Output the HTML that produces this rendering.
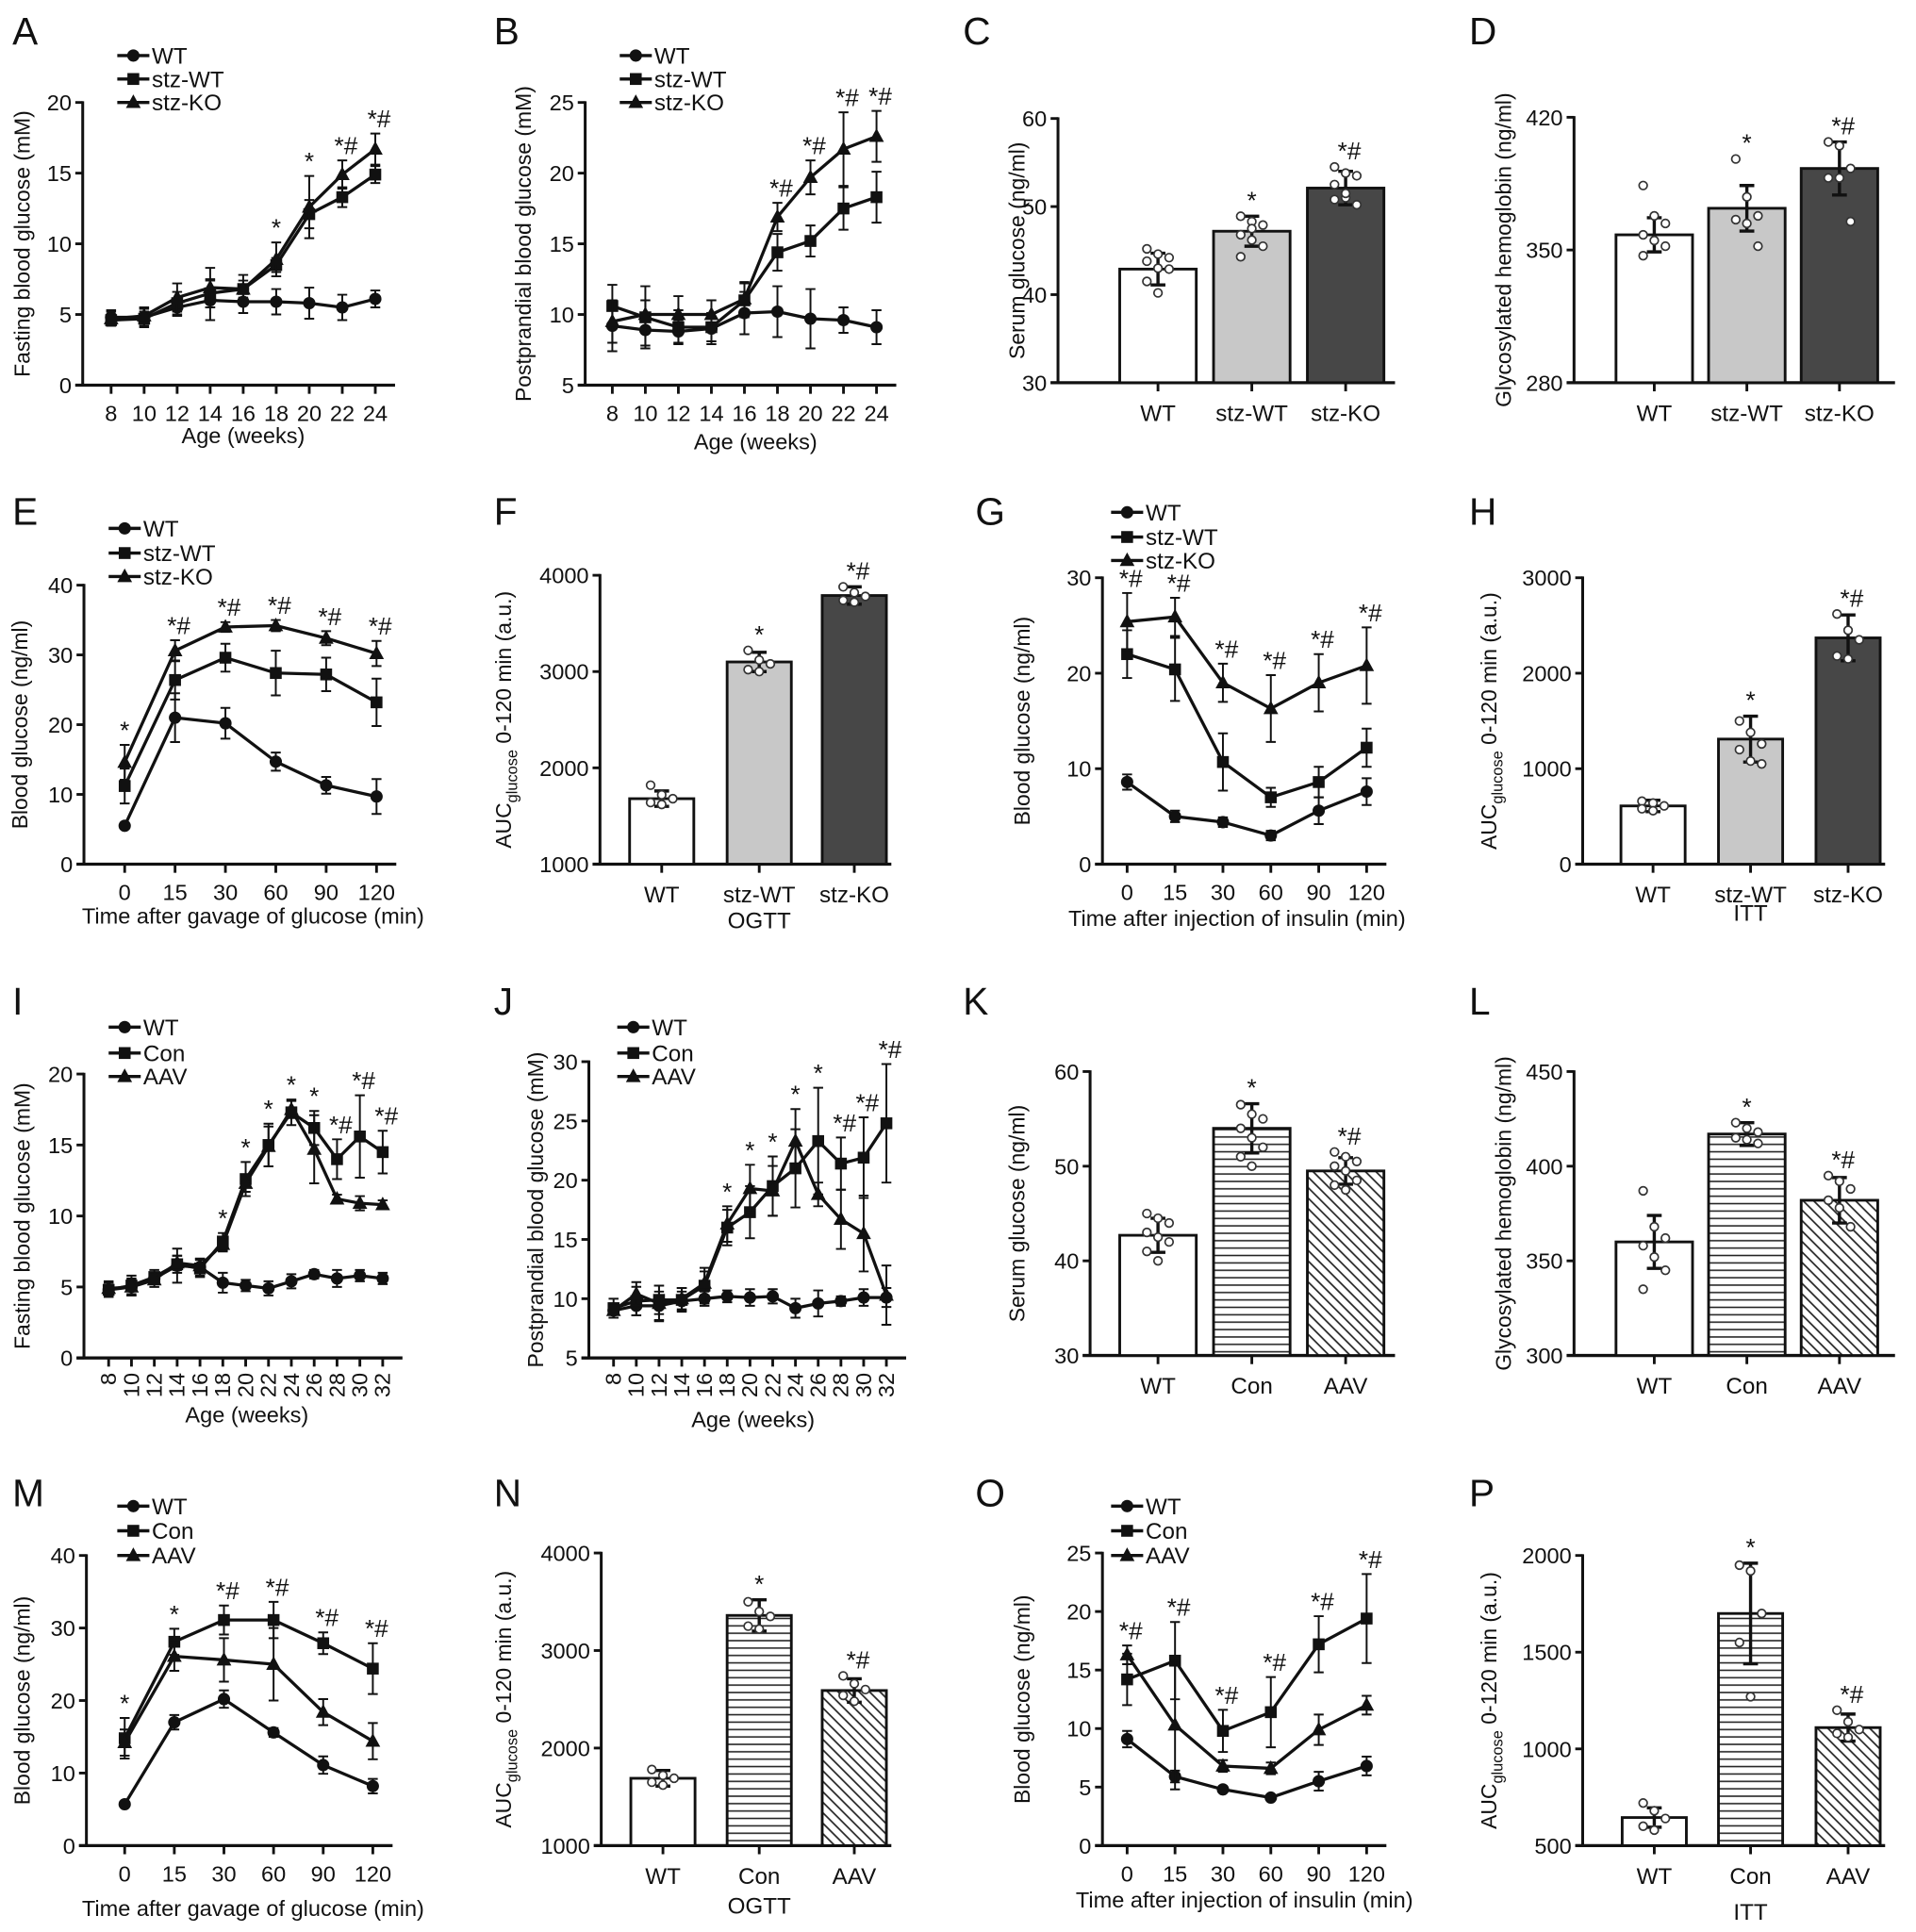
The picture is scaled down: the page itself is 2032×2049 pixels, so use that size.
<!DOCTYPE html>
<html><head><meta charset="utf-8">
<style>
html,body{margin:0;padding:0;background:#fff;}
svg{display:block;}
text{font-family:"Liberation Sans",Arial,sans-serif;fill:#111;}
</style></head>
<body>
<svg id="fig" xmlns="http://www.w3.org/2000/svg" width="2032" height="2049" viewBox="0 0 1552 1565" preserveAspectRatio="none">
<defs>
<pattern id="hatchH" patternUnits="userSpaceOnUse" width="6" height="6"><rect width="6" height="6" fill="#fff"/><line x1="0" y1="3" x2="6" y2="3" stroke="#222" stroke-width="1.2"/></pattern>
<pattern id="hatchD" patternUnits="userSpaceOnUse" width="6" height="6" patternTransform="rotate(45)"><rect width="6" height="6" fill="#fff"/><line x1="0" y1="3" x2="6" y2="3" stroke="#222" stroke-width="1.3"/></pattern>
</defs>
</svg>
<script>
// ---------- DATA ----------
const ageA=[8,10,12,14,16,18,20,22,24];
const A_wt=[4.8,4.8,5.5,6.0,5.9,5.9,5.8,5.5,6.1], A_wtE=[0.5,0.7,0.6,1.4,0.8,0.9,1.1,0.9,0.6];
const A_sw=[4.6,4.7,5.8,6.5,6.8,8.5,12.1,13.3,14.9], A_swE=[0.4,0.5,0.8,1.0,0.6,0.5,1.0,0.7,0.6];
const A_sk=[4.7,4.9,6.2,6.9,6.8,8.9,12.6,14.9,16.7], A_skE=[0.5,0.5,1.0,1.4,1.0,1.2,2.2,1.0,1.1];
const A_ann=["","","","","","*","*","*#","*#"];
const B_wt=[9.2,8.9,8.8,9.0,10.1,10.2,9.7,9.6,9.1], B_wtE=[1.8,1.1,0.8,1.1,1.5,1.8,2.1,0.9,1.2];
const B_sw=[10.6,9.8,9.1,9.1,11.0,14.4,15.2,17.5,18.3], B_swE=[1.5,2.2,1.2,1.0,1.2,1.3,1.1,1.5,1.8];
const B_sk=[9.5,10.0,10.0,10.0,11.1,16.9,19.7,21.7,22.6], B_skE=[1.5,1.0,1.3,1.0,1.2,1.0,1.2,2.6,1.8];
const B_ann=["","","","","","*#","*#","*#","*#"];
const timeT=[0,15,30,60,90,120];
const E_wt=[5.5,21,20.2,14.7,11.3,9.7], E_wtE=[0.4,3.5,2.2,1.3,1.2,2.5];
const E_sw=[11.2,26.4,29.6,27.4,27.2,23.2], E_swE=[2.5,2.8,2.0,3.2,2.4,3.4];
const E_sk=[14.6,30.6,34,34.2,32.4,30.2], E_skE=[2.5,1.5,0.7,0.8,1.0,1.8];
const E_ann=["*","*#","*#","*#","*#","*#"];
const G_wt=[8.6,5.0,4.4,3.0,5.6,7.6], G_wtE=[0.8,0.6,0.5,0.5,1.4,1.4];
const G_sw=[22,20.4,10.7,7.0,8.6,12.2], G_swE=[2.5,3.3,3.0,1.0,1.6,2.0];
const G_sk=[25.4,25.9,19.0,16.3,19.0,20.8], G_skE=[3.0,2.0,2.0,3.5,3.0,4.0];
const G_ann=["*#","*#","*#","*#","*#","*#"];
const ageI=[8,10,12,14,16,18,20,22,24,26,28,30,32];
const I_wt=[4.8,5.0,5.6,6.5,6.4,5.3,5.1,4.9,5.4,5.9,5.6,5.8,5.6], I_wtE=[0.5,0.6,0.4,1.2,0.6,0.7,0.4,0.5,0.5,0.3,0.6,0.4,0.4];
const I_con=[4.8,5.1,5.7,6.6,6.3,8.2,12.6,15.0,17.3,16.2,14.0,15.6,14.5], I_conE=[0.5,0.7,0.5,0.6,0.6,0.6,1.2,1.5,0.9,1.2,1.4,2.9,1.5];
const I_aav=[4.9,5.0,5.5,6.7,6.5,8.0,12.3,14.9,17.5,14.7,11.2,10.9,10.8], I_aavE=[0.5,0.5,0.5,0.5,0.5,0.5,0.6,1.4,0.6,2.4,0.3,0.5,0.3];
const I_ann=["","","","","","*","*","*","*","*","*#","*#","*#"];
const J_wt=[9.0,9.4,9.4,9.8,10.0,10.2,10.1,10.2,9.2,9.6,9.8,10.1,10.1], J_wtE=[0.6,0.8,1.2,0.8,0.6,0.5,0.7,0.6,0.8,1.1,0.4,0.7,0.8];
const J_con=[9.2,9.8,9.9,9.9,11.1,16.0,17.3,19.5,21.0,23.3,21.4,21.9,24.8], J_conE=[0.8,1.2,1.2,1.0,1.5,1.5,2.2,2.5,3.3,4.5,2.2,3.4,5.0];
const J_aav=[9.0,10.4,9.6,10.0,11.3,16.3,19.3,19.1,23.3,18.8,16.7,15.5,10.3], J_aavE=[0.6,1.0,1.5,0.9,1.0,1.5,2.0,2.1,2.7,1.0,2.5,3.2,2.5];
const J_ann=["","","","","","*","*","*","*","*","*#","*#","*#"];
const M_wt=[5.7,17,20.2,15.6,11.1,8.2], M_wtE=[0.3,1.0,1.2,0.6,1.2,1.0];
const M_con=[14.8,28.1,31.1,31.1,27.9,24.4], M_conE=[2.8,1.8,2.0,2.5,1.5,3.5];
const M_aav=[14.2,26.1,25.6,25,18.4,14.4], M_aavE=[1.8,2.0,3.0,5.0,1.8,2.5];
const M_ann=["*","*","*#","*#","*#","*#"];
const O_wt=[9.1,5.9,4.8,4.1,5.5,6.8], O_wtE=[0.7,0.5,0.2,0.2,0.8,0.8];
const O_con=[14.2,15.8,9.8,11.4,17.2,19.4], O_conE=[2.2,3.3,1.8,3.0,2.4,3.8];
const O_aav=[16.3,10.3,6.8,6.6,9.9,12.0], O_aavE=[0.8,5.5,0.5,0.5,1.3,0.8];
const O_ann=["*#","*#","*#","*#","*#","*#"];
// bar data
const groupsS=["WT","stz-WT","stz-KO"], groupsC=["WT","Con","AAV"];
const C_vals=[42.9,47.2,52.1], C_errs=[1.8,1.7,1.9], C_ann=["","*","*#"];
const C_dots=[[45.2,44.6,44.2,43.8,43,42.9,41.5,40.2],[48.9,48.3,47.9,46.8,46.2,45.5,44.3,47.5],[54.5,53.8,53.5,52.5,51,50.2,50.8,51.5]];
const D_vals=[358,372,393], D_errs=[9,12,14], D_ann=["","*","*#"];
const D_dots=[[384,368,364,358,355,352,347],[398,378,368,366,364,352],[407,405,393,388,388,365]];
const F_vals=[1680,3100,3790], F_errs=[80,100,90], F_ann=["","*","*#"];
const F_dots=[[1820,1720,1680,1640,1620],[3220,3120,3080,3020,3000],[3880,3820,3780,3740,3720]];
const H_vals=[610,1310,2370], H_errs=[60,240,240], H_ann=["","*","*#"];
const H_dots=[[660,640,610,580,560],[1500,1380,1260,1200,1080,1050],[2620,2450,2350,2180,2150]];
const K_vals=[42.7,54.0,49.5], K_errs=[1.8,2.6,1.4], K_ann=["","*","*#"];
const K_dots=[[45,44.5,44,43,42.5,42,41,40],[56.5,55.5,55,54,53,52,51,50],[51.5,51,50.5,50,49.5,48.5,48,47.5]];
const L_vals=[360,417,382], L_errs=[14,6,12], L_ann=["","*","*#"];
const L_dots=[[387,368,362,358,352,345,335],[423,420,418,415,414,412],[395,392,388,382,378,368]];
const N_vals=[1690,3360,2590], N_errs=[80,160,120], N_ann=["","*","*#"];
const N_dots=[[1780,1720,1690,1650,1620],[3500,3400,3350,3250,3220],[2740,2660,2600,2540,2480]];
const P_vals=[645,1700,1110], P_errs=[50,260,70], P_ann=["","*","*#"];
const P_dots=[[720,680,640,600,580],[1950,1920,1700,1550,1270],[1200,1140,1100,1080,1060]];

// ---------- DRAWING ----------
const svg=document.getElementById('fig');
const NS='http://www.w3.org/2000/svg';
function mk(tag,attrs,parent){const e=document.createElementNS(NS,tag);for(const k in attrs)e.setAttribute(k,attrs[k]);(parent||svg).appendChild(e);return e;}
function txt(s,x,y,size,anchor,parent,extra){const t=mk('text',Object.assign({x:x,y:y,'font-size':size,'text-anchor':anchor||'middle'},extra||{}),parent);t.textContent=s;return t;}
function grp(name){const g=mk('g',{});return g;}

function marker(type,x,y,parent){
  let m;
  if(type==='circle'){m=mk('circle',{cx:x,cy:y,r:5,fill:'#111'},parent);}
  else if(type==='square'){m=mk('rect',{x:x-4.8,y:y-4.8,width:9.6,height:9.6,fill:'#111'},parent);}
  else {m=mk('polygon',{points:`${x},${y-6.5} ${x-6},${y+4.5} ${x+6},${y+4.5}`,fill:'#111'},parent);}
  
  
  return m;
}
function yAxis(g,p,ticks){
  const sy=v=>p.yb-(v-p.ymin)/(p.ymax-p.ymin)*(p.yb-p.yt);
  const ax=mk('line',{x1:p.ax,y1:p.yt-1,x2:p.ax,y2:p.yb,stroke:'#111','stroke-width':2.3},g);
  
  ticks.forEach(v=>{mk('line',{x1:p.ax-6,y1:sy(v),x2:p.ax,y2:sy(v),stroke:'#111','stroke-width':2.2},g);
    const t=txt(String(v),p.ax-9,sy(v)+6.5,18,'end',g);});
  return sy;
}
function yTitle(g,p,content){
  const mid=(p.yt+p.yb)/2;
  const t=mk('text',{x:p.ytx,y:mid,'font-size':17.5,'text-anchor':'middle',transform:`rotate(-90 ${p.ytx} ${mid})`},g);
  if(typeof content==='string')t.textContent=content;
  else{content(t);}
  
}
function letter(g,p){const t=txt(p.letter,p.lx,p.ly,31,'start',g);}

function lineChart(p){
  const g=grp('panel-'+p.letter.toLowerCase());
  letter(g,p);
  const ticks=[];for(let v=p.ymin;v<=p.ymax+1e-9;v+=p.ystep)ticks.push(v);
  const sy=yAxis(g,p,ticks);
  yTitle(g,p,p.ytitle);
  const n=p.xs.length;const sx=i=>p.x0+i*(p.x1-p.x0)/(n-1);
  const xa=mk('line',{x1:p.ax-6,y1:p.yb,x2:p.x1+16,y2:p.yb,stroke:'#111','stroke-width':2.5},g);
  
  p.xs.forEach((v,i)=>{mk('line',{x1:sx(i),y1:p.yb,x2:sx(i),y2:p.yb+7,stroke:'#111','stroke-width':2.2},g);
    let t;
    if(p.rot){const x=sx(i)+6,y=p.yb+12;t=txt(String(v),x,y,18,'end',g,{transform:`rotate(-90 ${x} ${y})`});}
    else t=txt(String(v),sx(i),p.yb+29,18,'middle',g);
    });
  const xt=txt(p.xtitle,p.xtx,p.xty,18,'middle',g);
  const types=['circle','square','triangle'];
  p.series.forEach((s,si)=>{
    const sg=grp('series-'+p.names[si].toLowerCase());g.appendChild(sg);
    const pts=s.v.map((v,i)=>`${sx(i)},${sy(v)}`).join(' ');
    const pl=mk('polyline',{points:pts,fill:'none',stroke:'#111','stroke-width':2.5,'stroke-linejoin':'round'},sg);
    
    s.v.forEach((v,i)=>{
      const e=s.e[i];
      const eb=mk('path',{d:`M${sx(i)},${sy(v-e)}V${sy(v+e)}M${sx(i)-4},${sy(v+e)}H${sx(i)+4}M${sx(i)-4},${sy(v-e)}H${sx(i)+4}`,stroke:'#111','stroke-width':1.5,fill:'none'},sg);
      
      marker(types[si],sx(i),sy(v),sg);
    });
  });
  p.ann.forEach((a,i)=>{if(!a)return;
    let top=Math.max(...p.series.map(s=>s.v[i]+s.e[i]));
    const t=txt(a,sx(i)+(a.length>1?3:0),sy(top)-5,20,'middle',g);});
  p.names.forEach((nm,i)=>{
    const y=p.legY[i];
    const lg=grp('legend-entry');g.appendChild(lg);
    mk('line',{x1:p.legX,y1:y,x2:p.legX+26,y2:y,stroke:'#111','stroke-width':2.6},lg);
    marker(types[i],p.legX+13,y,lg);
    txt(nm,p.legX+28,y+6.5,18.5,'start',lg);
  });
}

function barChart(p){
  const g=grp('panel-'+p.letter.toLowerCase());
  letter(g,p);
  const sy=yAxis(g,p,p.ticks);
  yTitle(g,p,p.auc?(t=>{const a=mk('tspan',{},t);a.textContent='AUC';const b=mk('tspan',{'font-size':12.5,dy:5},t);b.textContent='glucose';const c=mk('tspan',{dy:-5},t);c.textContent=' 0-120 min (a.u.)';}):p.ytitle);
  const xa=mk('line',{x1:p.ax-6,y1:p.yb,x2:p.xend,y2:p.yb,stroke:'#111','stroke-width':2.5},g);
  
  p.vals.forEach((v,i)=>{
    const cx=p.cx[i],w=p.w;
    const bg=grp('bar-'+p.labels[i].toLowerCase());g.appendChild(bg);
    const r=mk('rect',{x:cx-w/2,y:sy(v),width:w,height:p.yb-sy(v),fill:p.fills[i],stroke:'#111','stroke-width':2.2},bg);
    
    mk('line',{x1:cx,y1:p.yb,x2:cx,y2:p.yb+7,stroke:'#111','stroke-width':2.2},bg);
    const lt=txt(p.labels[i],cx,p.yb+31,18.5,'middle',bg);
    const e=p.errs[i];
    const eb=mk('path',{d:`M${cx},${sy(v-e)}V${sy(v+e)}M${cx-6},${sy(v+e)}H${cx+6}M${cx-6},${sy(v-e)}H${cx+6}`,stroke:'#111','stroke-width':2.6,fill:'none'},bg);
    
    p.dots[i].forEach((d,j)=>{const off=((j%3)-1)*9;
      const c=mk('circle',{cx:cx+off,cy:sy(d),r:3.3,fill:'#fff',stroke:'#333','stroke-width':1.3},bg);
      });
    if(p.ann[i]){const top=Math.max(v+e,...p.dots[i]);const t=txt(p.ann[i],cx+(p.ann[i].length>1?3:0),sy(top)-6,20,'middle',bg);
      }
  });
  if(p.sub){const t=txt(p.sub,p.cx[1],p.suby,18.5,'middle',g);}
}

const FS=['#fff','#c8c8c8','#474747'], FC=['#fff','url(#hatchH)','url(#hatchD)'];
const ageTitle='Age (weeks)';
lineChart({letter:'A',lx:10,ly:36,ax:67,yb:312,yt:83,ymin:0,ymax:20,ystep:5,ytx:24,ytitle:'Fasting blood glucose (mM)',xs:ageA,x0:90,x1:304,xtitle:ageTitle,xtx:197,xty:359,
  series:[{v:A_wt,e:A_wtE},{v:A_sw,e:A_swE},{v:A_sk,e:A_skE}],names:['WT','stz-WT','stz-KO'],ann:A_ann,legX:95,legY:[45,64,83]});
lineChart({letter:'B',lx:400,ly:36,ax:474,yb:312,yt:83,ymin:5,ymax:25,ystep:5,ytx:430,ytitle:'Postprandial blood glucose (mM)',xs:ageA,x0:496,x1:710,xtitle:ageTitle,xtx:612,xty:364,
  series:[{v:B_wt,e:B_wtE},{v:B_sw,e:B_swE},{v:B_sk,e:B_skE}],names:['WT','stz-WT','stz-KO'],ann:B_ann,legX:502,legY:[45,64,83]});
barChart({letter:'C',lx:780,ly:36,ax:857,yb:310,yt:96,ymin:30,ymax:60,ticks:[30,40,50,60],ytx:830,ytitle:'Serum glucose (ng/ml)',cx:[938,1014,1090],w:62,xend:1130,
  vals:C_vals,errs:C_errs,dots:C_dots,ann:C_ann,labels:groupsS,fills:FS});
barChart({letter:'D',lx:1190,ly:36,ax:1275,yb:310,yt:95,ymin:280,ymax:420,ticks:[280,350,420],ytx:1224,ytitle:'Glycosylated hemoglobin (ng/ml)',cx:[1340,1415,1490],w:62,xend:1535,
  vals:D_vals,errs:D_errs,dots:D_dots,ann:D_ann,labels:groupsS,fills:FS});
lineChart({letter:'E',lx:10,ly:425,ax:68,yb:700,yt:474,ymin:0,ymax:40,ystep:10,ytx:22,ytitle:'Blood glucose (ng/ml)',xs:timeT,x0:101,x1:305,xtitle:'Time after gavage of glucose (min)',xtx:205,xty:748,
  series:[{v:E_wt,e:E_wtE},{v:E_sw,e:E_swE},{v:E_sk,e:E_skE}],names:['WT','stz-WT','stz-KO'],ann:E_ann,legX:88,legY:[428,448,467]});
barChart({letter:'F',lx:400,ly:425,ax:486,yb:700,yt:466,ymin:1000,ymax:4000,ticks:[1000,2000,3000,4000],ytx:414,auc:true,cx:[536,615,692],w:52,xend:722,
  vals:F_vals,errs:F_errs,dots:F_dots,ann:F_ann,labels:groupsS,fills:FS,sub:'OGTT',suby:752});
lineChart({letter:'G',lx:790,ly:425,ax:893,yb:700,yt:468,ymin:0,ymax:30,ystep:10,ytx:834,ytitle:'Blood glucose (ng/ml)',xs:timeT,x0:913,x1:1107,xtitle:'Time after injection of insulin (min)',xtx:1002,xty:750,
  series:[{v:G_wt,e:G_wtE},{v:G_sw,e:G_swE},{v:G_sk,e:G_skE}],names:['WT','stz-WT','stz-KO'],ann:G_ann,legX:900,legY:[415,435,454]});
barChart({letter:'H',lx:1190,ly:425,ax:1282,yb:700,yt:468,ymin:0,ymax:3000,ticks:[0,1000,2000,3000],ytx:1212,auc:true,cx:[1339,1418,1497],w:52,xend:1527,
  vals:H_vals,errs:H_errs,dots:H_dots,ann:H_ann,labels:groupsS,fills:FS,sub:'ITT',suby:746});
lineChart({letter:'I',lx:10,ly:822,ax:68,yb:1100,yt:870,ymin:0,ymax:20,ystep:5,ytx:24,ytitle:'Fasting blood glucose (mM)',xs:ageI,x0:88,x1:310,rot:true,xtitle:ageTitle,xtx:200,xty:1152,
  series:[{v:I_wt,e:I_wtE},{v:I_con,e:I_conE},{v:I_aav,e:I_aavE}],names:['WT','Con','AAV'],ann:I_ann,legX:88,legY:[832,853,872]});
lineChart({letter:'J',lx:400,ly:822,ax:477,yb:1100,yt:860,ymin:5,ymax:30,ystep:5,ytx:440,ytitle:'Postprandial blood glucose (mM)',xs:ageI,x0:497,x1:718,rot:true,xtitle:ageTitle,xtx:610,xty:1156,
  series:[{v:J_wt,e:J_wtE},{v:J_con,e:J_conE},{v:J_aav,e:J_aavE}],names:['WT','Con','AAV'],ann:J_ann,legX:500,legY:[832,853,872]});
barChart({letter:'K',lx:780,ly:822,ax:883,yb:1098,yt:868,ymin:30,ymax:60,ticks:[30,40,50,60],ytx:830,ytitle:'Serum glucose (ng/ml)',cx:[938,1014,1090],w:62,xend:1130,
  vals:K_vals,errs:K_errs,dots:K_dots,ann:K_ann,labels:groupsC,fills:FC});
barChart({letter:'L',lx:1190,ly:822,ax:1275,yb:1098,yt:868,ymin:300,ymax:450,ticks:[300,350,400,450],ytx:1224,ytitle:'Glycosylated hemoglobin (ng/ml)',cx:[1340,1415,1490],w:62,xend:1535,
  vals:L_vals,errs:L_errs,dots:L_dots,ann:L_ann,labels:groupsC,fills:FC});
lineChart({letter:'M',lx:10,ly:1220,ax:70,yb:1495,yt:1260,ymin:0,ymax:40,ystep:10,ytx:24,ytitle:'Blood glucose (ng/ml)',xs:timeT,x0:101,x1:302,xtitle:'Time after gavage of glucose (min)',xtx:205,xty:1552,
  series:[{v:M_wt,e:M_wtE},{v:M_con,e:M_conE},{v:M_aav,e:M_aavE}],names:['WT','Con','AAV'],ann:M_ann,legX:95,legY:[1220,1240,1260]});
barChart({letter:'N',lx:400,ly:1220,ax:487,yb:1495,yt:1258,ymin:1000,ymax:4000,ticks:[1000,2000,3000,4000],ytx:414,auc:true,cx:[537,615,692],w:52,xend:722,
  vals:N_vals,errs:N_errs,dots:N_dots,ann:N_ann,labels:groupsC,fills:FC,sub:'OGTT',suby:1550});
lineChart({letter:'O',lx:790,ly:1220,ax:893,yb:1495,yt:1258,ymin:0,ymax:25,ystep:5,ytx:834,ytitle:'Blood glucose (ng/ml)',xs:timeT,x0:913,x1:1107,xtitle:'Time after injection of insulin (min)',xtx:1008,xty:1545,
  series:[{v:O_wt,e:O_wtE},{v:O_con,e:O_conE},{v:O_aav,e:O_aavE}],names:['WT','Con','AAV'],ann:O_ann,legX:900,legY:[1220,1240,1260]});
barChart({letter:'P',lx:1190,ly:1220,ax:1282,yb:1495,yt:1260,ymin:500,ymax:2000,ticks:[500,1000,1500,2000],ytx:1212,auc:true,cx:[1340,1418,1497],w:52,xend:1527,
  vals:P_vals,errs:P_errs,dots:P_dots,ann:P_ann,labels:groupsC,fills:FC,sub:'ITT',suby:1555});
</script>
</body></html>
